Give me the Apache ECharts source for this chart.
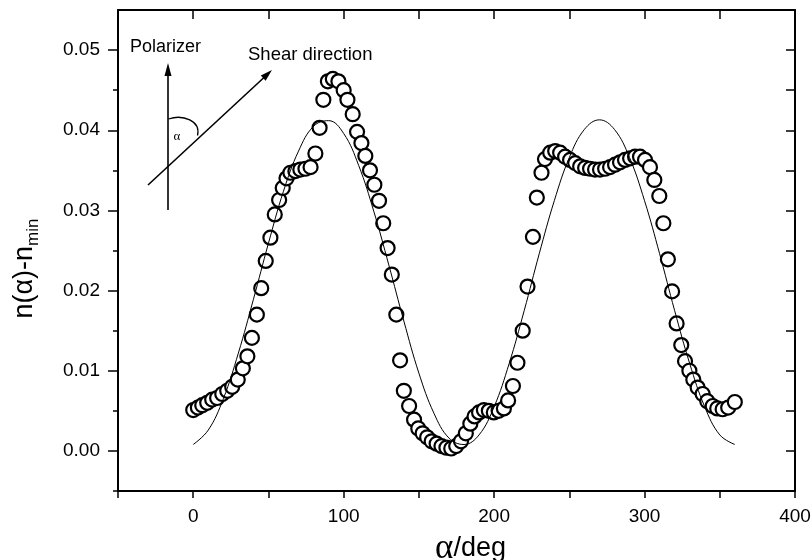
<!DOCTYPE html>
<html>
<head>
<meta charset="utf-8">
<script src="https://cdn.jsdelivr.net/npm/echarts@6/dist/echarts.min.js"></script>
<style>html,body{margin:0;padding:0;background:#fff}#c{width:812px;height:560px}</style>
</head>
<body>
<div id="c"></div>
<script>
// measured points: alpha (deg) and n(alpha)-n_min
const alphaDeg = [0,3.1,6.0,9.3,12.6,15.9,19.3,22.6,25.9,29.6,33.0,36.0,39.0,42.3,45.2,48.2,51.3,54.2,57.1,59.5,62.0,64.6,67.9,71.2,74.6,78.0,81.2,84.0,86.5,89.5,92.8,96.5,100.0,102.5,106.0,108.9,111.8,114.4,117.5,120.4,123.5,126.3,129.2,132.0,135.0,137.5,140.0,143.5,146.8,149.6,152.5,155.5,158.5,161.8,165.0,168.3,171.5,174.8,178.0,181.2,184.2,187.0,190.0,193.2,196.5,199.8,203.0,206.5,209.3,212.5,215.5,219.0,222.2,225.8,228.4,231.5,233.8,237.3,240.6,243.9,247.2,250.5,253.9,257.2,260.5,263.8,267.1,270.4,273.8,277.1,280.4,283.7,287.0,290.4,293.7,297.0,300.3,303.6,306.5,309.8,312.5,315.5,318.3,321.3,324.4,326.9,329.8,332.4,335.3,338.6,341.7,345.3,348.3,351.9,355.6,360.0];
const nDiff = [0.0051,0.0054,0.0057,0.0060,0.0064,0.0066,0.0071,0.0075,0.0080,0.0089,0.0103,0.0118,0.0141,0.0170,0.0203,0.0237,0.0266,0.0295,0.0313,0.0328,0.0340,0.0347,0.0349,0.0351,0.0352,0.0354,0.0371,0.0403,0.0438,0.0461,0.0464,0.0461,0.0450,0.0438,0.0420,0.0398,0.0384,0.0368,0.0350,0.0332,0.0312,0.0284,0.0253,0.0220,0.0170,0.0113,0.0075,0.0056,0.0039,0.0028,0.0022,0.0017,0.0012,0.0009,0.0006,0.0004,0.0003,0.0006,0.0012,0.0022,0.0034,0.0043,0.0048,0.0051,0.0050,0.0048,0.0050,0.0053,0.0063,0.0081,0.0110,0.0150,0.0205,0.0267,0.0316,0.0347,0.0364,0.0372,0.0374,0.0372,0.0367,0.0363,0.0359,0.0355,0.0353,0.0352,0.0351,0.0351,0.0352,0.0354,0.0357,0.0360,0.0363,0.0365,0.0367,0.0367,0.0363,0.0354,0.0338,0.0318,0.0284,0.0239,0.0199,0.0159,0.0132,0.0112,0.0100,0.0089,0.0079,0.0071,0.0062,0.0056,0.0053,0.0052,0.0054,0.0061];
// fitted curve
const fitAlpha = [0,10,20,30,40,50,60,70,80,90,100,110,120,130,140,150,160,170,180,190,200,210,220,230,240,250,260,270,280,290,300,310,320,330,340,350,360];
const fitN = [0.0008,0.0026,0.0065,0.0122,0.0189,0.0259,0.0324,0.0374,0.0405,0.0412,0.0396,0.0356,0.0299,0.0232,0.0162,0.0097,0.0047,0.0016,0.0008,0.0020,0.0055,0.0109,0.0175,0.0246,0.0312,0.0366,0.0401,0.0413,0.0401,0.0366,0.0312,0.0246,0.0175,0.0109,0.0055,0.0020,0.0008];
// ticks
const xLabelTicks = [0,100,200,300,400];
const yMajorTicks = [0,0.01,0.02,0.03,0.04,0.05];
const yMinorTicks = [-0.005,0.005,0.015,0.025,0.035,0.045];
const yAllTicks = [-0.005,0,0.005,0.01,0.015,0.02,0.025,0.03,0.035,0.04,0.045,0.05];

const FONT = "'Liberation Sans', Arial, sans-serif";
const chart = echarts.init(document.getElementById('c'), null, {renderer: 'canvas'});
const axisLine = {show: true, onZero: false, lineStyle: {color: '#000', width: 2}};

const scatterData = alphaDeg.map((a, i) => [a, nDiff[i]]);
const fitData = fitAlpha.map((a, i) => [a, fitN[i]]);

chart.setOption({
  animation: false,
  backgroundColor: '#fff',
  grid: {left: 118, right: 17, top: 10, bottom: 69, containLabel: false, outerBoundsMode: 'none'},
  xAxis: [
    {
      type: 'value', position: 'bottom', min: -50, max: 400, interval: 50,
      axisLine: axisLine,
      axisTick: {show: true, inside: false, length: 7, lineStyle: {color: '#000', width: 1.5}},
      axisLabel: {customValues: xLabelTicks, color: '#000', fontSize: 19, fontFamily: FONT, margin: 16,
        formatter: v => String(v)},
      splitLine: {show: false},
      name: '{g|α}{t|/deg}', nameLocation: 'middle', nameGap: 32,
      nameTextStyle: {padding: [0, 0, 0, 28], rich: {
        g: {fontFamily: "'Liberation Serif', 'DejaVu Serif', serif", fontSize: 35, color: '#000'},
        t: {fontFamily: FONT, fontSize: 27, color: '#000'}
      }}
    },
    {
      type: 'value', position: 'top', min: -50, max: 400, interval: 50,
      axisLine: axisLine,
      axisTick: {show: true, inside: true, length: 9, lineStyle: {color: '#000', width: 1.5}},
      axisLabel: {show: false}, splitLine: {show: false}
    }
  ],
  yAxis: [
    {
      type: 'value', position: 'left', min: -0.005, max: 0.055,
      axisLine: axisLine,
      axisTick: {show: true, inside: false, length: 10, customValues: yMajorTicks, lineStyle: {color: '#000', width: 1.5}},
      axisLabel: {customValues: yMajorTicks, color: '#000', fontSize: 19, fontFamily: FONT, margin: 18,
        formatter: v => v.toFixed(2)},
      splitLine: {show: false},
      name: '{a|n(α)-n}{s|min}', nameLocation: 'middle', nameGap: 76, nameRotate: 90,
      nameTextStyle: {padding: [0, 36, 0, 0], rich: {
        a: {fontFamily: FONT, fontSize: 27, color: '#000', lineHeight: 34},
        s: {fontFamily: FONT, fontSize: 17, color: '#000', verticalAlign: 'bottom', lineHeight: 34, padding: [11, 0, 0, 0]}
      }}
    },
    {
      type: 'value', position: 'left', min: -0.005, max: 0.055,
      axisLine: {show: false, onZero: false},
      axisTick: {show: true, inside: false, length: 5, customValues: yMinorTicks, lineStyle: {color: '#000', width: 1.5}},
      axisLabel: {show: false}, splitLine: {show: false}
    },
    {
      type: 'value', position: 'right', min: -0.005, max: 0.055,
      axisLine: axisLine,
      axisTick: {show: true, inside: true, length: 9, customValues: yAllTicks, lineStyle: {color: '#000', width: 1.5}},
      axisLabel: {show: false}, splitLine: {show: false}
    }
  ],
  series: [
    {
      type: 'scatter', xAxisIndex: 0, yAxisIndex: 0, data: scatterData,
      symbol: 'circle', symbolSize: 14, z: 2,
      itemStyle: {color: '#fff', borderColor: '#000', borderWidth: 2.2, opacity: 1}
    },
    {
      type: 'line', xAxisIndex: 0, yAxisIndex: 0, data: fitData, smooth: 0.4,
      showSymbol: false, symbol: 'none', z: 3,
      lineStyle: {color: '#000', width: 1}
    }
  ],
  graphic: [
    {type: 'line', shape: {x1: 168, y1: 210, x2: 168, y2: 74}, style: {stroke: '#000', lineWidth: 1.6}},
    {type: 'polygon', shape: {points: [[168, 63], [164.5, 76], [171.5, 76]]}, style: {fill: '#000'}},
    {type: 'line', shape: {x1: 148, y1: 185, x2: 264, y2: 77.5}, style: {stroke: '#000', lineWidth: 1.6}},
    {type: 'polygon', shape: {points: [[272, 70], [265.6, 80.7], [260.8, 75.5]]}, style: {fill: '#000'}},
    {type: 'bezierCurve', shape: {x1: 168.5, y1: 119, cpx1: 183, cpy1: 114, cpx2: 201, cpy2: 121, x2: 197.5, y2: 135.5},
      style: {stroke: '#000', lineWidth: 1.3, fill: null}},
    {type: 'text', x: 177, y: 137, style: {text: 'α', fontFamily: "'Liberation Serif', serif", fontSize: 13, fill: '#000', align: 'center', verticalAlign: 'middle'}},
    {type: 'text', x: 130, y: 47, style: {text: 'Polarizer', fontFamily: FONT, fontSize: 18, fill: '#000', align: 'left', verticalAlign: 'middle'}},
    {type: 'text', x: 248, y: 55, style: {text: 'Shear direction', fontFamily: FONT, fontSize: 18.5, fill: '#000', align: 'left', verticalAlign: 'middle'}}
  ]
});
</script>
</body>
</html>
